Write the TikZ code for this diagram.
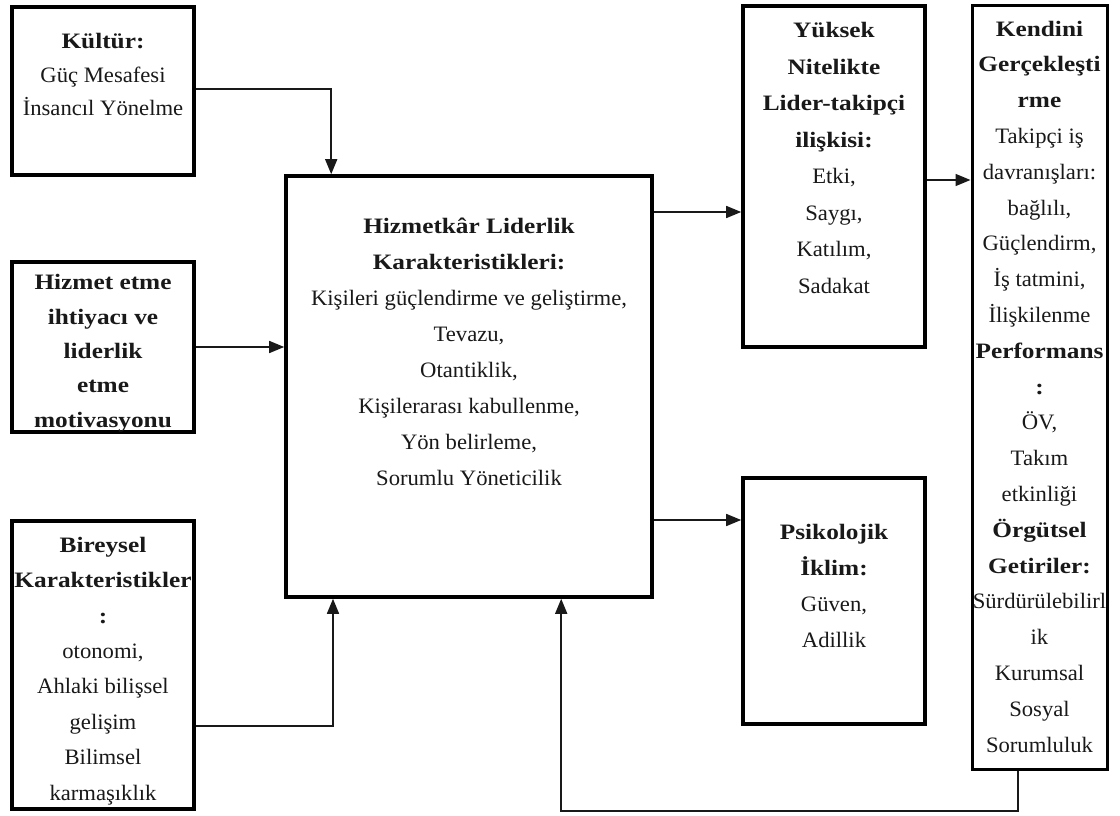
\documentclass[tikz,border=0pt]{standalone}
\usepackage{fontspec}
\setmainfont{Liberation Serif}[FakeStretch=1.03, BoldFeatures={FakeStretch=1.15}]
\usetikzlibrary{arrows.meta,calc}

\begin{document}
\begin{tikzpicture}[x=1pt,y=-1pt,
  panel/.style={draw=black, line width=3.6pt, inner sep=0pt, fill=white},
  txt/.style={align=center, inner sep=0pt, text=black!90, anchor=base,
    font=\fontsize{22}{35}\selectfont},
  conn/.style={line width=1.6pt, draw=black!90,
    -{Triangle[length=15pt,width=12pt]}}]

% page frame
\useasboundingbox (0,0) rectangle (1120,816);
\fill[white] (0,0) rectangle (1120,816);

% boxes
\node[panel, minimum width=182pt, minimum height=168pt] (kultur)   at (103,91)    {};
\node[panel, minimum width=182pt, minimum height=170pt] (hizmet)   at (103,347)   {};
\node[panel, minimum width=182pt, minimum height=288pt] (bireysel) at (103,665)   {};
\node[panel, minimum width=366pt, minimum height=421pt] (hl)       at (469,386.5) {};
\node[panel, minimum width=182pt, minimum height=341pt] (yuksek)   at (834,176.5) {};
\node[panel, minimum width=182pt, minimum height=246pt] (psiko)    at (834,601)   {};
\node[panel, line width=3pt, minimum width=135pt, minimum height=763pt] (kendini) at (1039.5,387.5) {};

% texts (each placed by the baseline of its last line)
\node[txt, font=\fontsize{22}{33.5}\selectfont] (kulturtxt) at (103,116)
  {\textbf{Kültür:}\\Güç Mesafesi\\İnsancıl Yönelme};
\node[txt, font=\fontsize{22}{34.3}\selectfont] (hizmettxt) at (103,427)
  {\textbf{Hizmet etme}\\\textbf{ihtiyacı ve}\\\textbf{liderlik}\\\textbf{etme}\\\textbf{motivasyonu}};
\node[txt, font=\fontsize{22}{35.4}\selectfont] (bireyseltxt) at (103,800)
  {\textbf{Bireysel}\\\textbf{Karakteristikler}\\\textbf{:}\\otonomi,\\Ahlaki bilişsel\\gelişim\\Bilimsel\\karmaşıklık};
\node[txt, font=\fontsize{22}{36}\selectfont] (hltxt) at (469,485)
  {\textbf{Hizmetkâr Liderlik}\\\textbf{Karakteristikleri:}\\Kişileri güçlendirme ve geliştirme,\\Tevazu,\\Otantiklik,\\Kişilerarası kabullenme,\\Yön belirleme,\\Sorumlu Yöneticilik};
\node[txt, font=\fontsize{22}{36.5}\selectfont] (yuksektxt) at (834,293)
  {\textbf{Yüksek}\\\textbf{Nitelikte}\\\textbf{Lider-takipçi}\\\textbf{ilişkisi:}\\Etki,\\Saygı,\\Katılım,\\Sadakat};
\node[txt, font=\fontsize{22}{36}\selectfont] (psikotxt) at (834,647)
  {\textbf{Psikolojik}\\\textbf{İklim:}\\Güven,\\Adillik};
\node[txt, font=\fontsize{22}{35.8}\selectfont] (kendinitxt) at (1039.5,752)
  {\textbf{Kendini}\\\textbf{Gerçekleşti}\\\textbf{rme}\\Takipçi iş\\davranışları:\\bağlılı,\\Güçlendirm,\\İş tatmini,\\İlişkilenme\\\textbf{Performans}\\\textbf{:}\\ÖV,\\Takım\\etkinliği\\\textbf{Örgütsel}\\\textbf{Getiriler:}\\Sürdürülebilirl\\ik\\Kurumsal\\Sosyal\\Sorumluluk};

% bend points of the connectors
\coordinate (kstart) at (0,89);
\coordinate (kturn) at ($(hl.north west)+(47,0)$);
\coordinate (bturn) at (333,726);
\coordinate (toY)   at (700,212);
\coordinate (toP)   at (700,520);
\coordinate (toK)   at (950,180);
\coordinate (fturn) at (1018,811);
\coordinate (fend)  at ($(hl.south west)+(277,0)$);

% connectors
\draw[conn] (kstart -| kultur.east) -| (kturn);
\draw[conn] (hizmet.east) -- (hizmet.east -| hl.west);
\draw[conn] (bireysel.east |- bturn) -- (bturn) -- (bturn |- hl.south);
\draw[conn] (toY -| hl.east) -- (toY -| yuksek.west);
\draw[conn] (toP -| hl.east) -- (toP -| psiko.west);
\draw[conn] (toK -| yuksek.east) -- (toK -| kendini.west);
\draw[conn] (kendini.south -| fturn) -- (fturn) -| (fend);

\end{tikzpicture}
\end{document}
